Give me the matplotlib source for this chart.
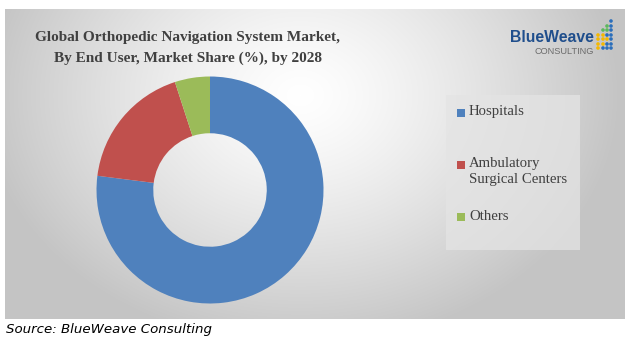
import matplotlib.pyplot as plt
import numpy as np
from matplotlib.patches import Rectangle, Ellipse

# Data
segments = ["Hospitals", "Ambulatory\nSurgical Centers", "Others"]
shares = [77, 18, 5]
colors = ["#4F81BD", "#C0504D", "#9BBB59"]

title = "Global Orthopedic Navigation System Market,\nBy End User, Market Share (%), by 2028"
source = "Source: BlueWeave Consulting"

W, H = 633, 344


def fx(px):
    return px / W


def fy(py):
    return 1 - py / H


def main():
    fig = plt.figure(figsize=(W / 100, H / 100), dpi=100)
    fig.patch.set_facecolor("white")

    # framed background with soft radial gradient
    left, top, right, bottom = 5, 9, 625, 319
    bg = fig.add_axes([fx(left), fy(bottom), fx(right - left), (bottom - top) / H])
    yy, xx = np.mgrid[top:bottom, left:right]
    d = np.sqrt(((xx - 300) / 330.0) ** 2 + ((yy - 95) / 260.0) ** 2)
    shade = np.clip(1.0 - 0.24 * d ** 1.3, 0.77, 1.0)
    bg.imshow(np.dstack([shade] * 3), aspect="auto", extent=(0, 1, 0, 1), origin="upper")
    bg.set_axis_off()

    # legend panel
    fig.patches.append(Rectangle((fx(446), fy(250)), fx(134), 155 / H,
                                 transform=fig.transFigure, facecolor="#e4e4e4",
                                 edgecolor="none", alpha=0.75, zorder=1))

    # donut
    cx, cy, r = 210, 190, 113.5
    ax = fig.add_axes([fx(cx - r), fy(cy + r), fx(2 * r), 2 * r / H])
    ax.pie(shares, colors=colors, startangle=90, counterclock=False,
           radius=1.0, wedgeprops=dict(width=0.5, edgecolor="none"))
    ax.set_xlim(-1, 1)
    ax.set_ylim(-1, 1)
    ax.set_axis_off()

    # title
    fig.text(fx(188), fy(48), title, ha="center", va="center", fontsize=11,
             fontweight="bold", family="Liberation Serif", color="#404040",
             linespacing=1.65)

    # legend entries (first text line aligned with its marker)
    marks = [113, 165, 217]
    for label, c, y in zip(segments, colors, marks):
        fig.patches.append(Rectangle((fx(457), fy(y + 4)), fx(8), 8 / H,
                                     transform=fig.transFigure, facecolor=c,
                                     edgecolor="none", zorder=3))
        fig.text(fx(469), fy(y - 7.5), label, ha="left", va="top",
                 fontsize=10.6, family="Liberation Serif", color="#404040",
                 linespacing=1.25)

    # logo
    fig.text(fx(594), fy(38), "BlueWeave", ha="right", va="center", fontsize=11.3,
             fontweight="bold", family="Liberation Sans", color="#1f4e8c")
    fig.text(fx(594), fy(51), "CONSULTING", ha="right", va="center", fontsize=6.6,
             family="Liberation Sans", color="#6b6b6b")
    dots = {
        598: ["y", "y", "y", "y"],
        603: ["g", "y", "y", "y", "b"],
        607: ["g", "g", "b", "y", "b", "b"],
        611: ["b", "b", "b", "b", "b", "b", "b"],
    }
    pal = {"y": "#f5b800", "g": "#5cb85c", "b": "#2a6ebb"}
    rows = [21, 26, 30, 35, 39, 44, 48]
    for x, col in dots.items():
        for c, y in zip(col, rows[-len(col):]):
            fig.patches.append(Ellipse((fx(x), fy(y)), 3.6 / W, 3.6 / H,
                                       transform=fig.transFigure,
                                       facecolor=pal[c], edgecolor="none", zorder=3))

    # source
    fig.text(fx(6), fy(329), source, ha="left", va="center", fontsize=9.6,
             style="italic", family="DejaVu Sans", color="black")

    fig.savefig("out.png", dpi=100)


if __name__ == "__main__":
    main()
